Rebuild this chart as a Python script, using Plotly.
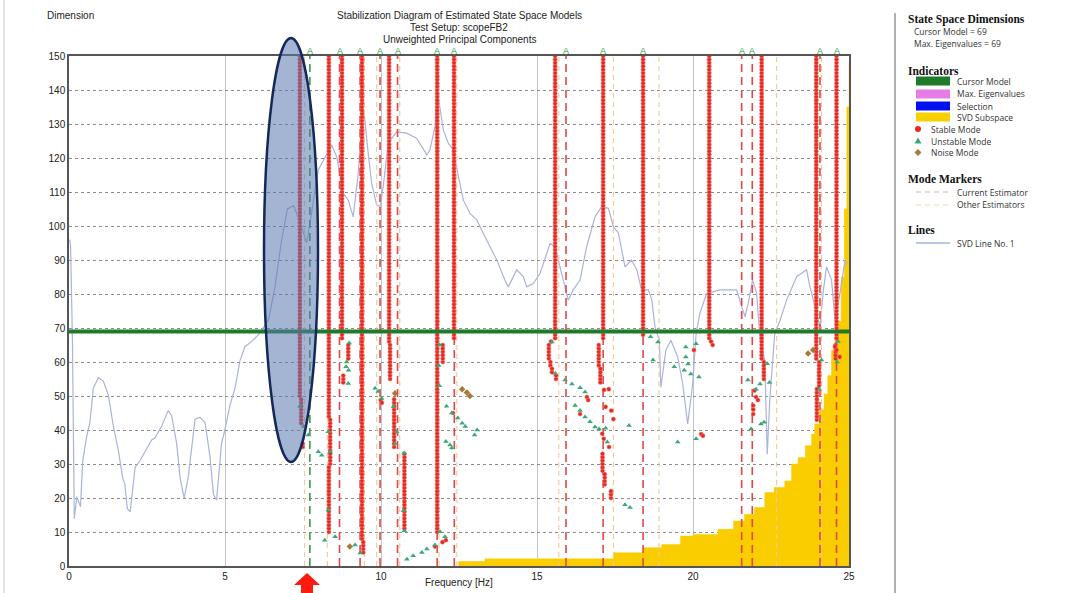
import plotly.graph_objects as go

# ---------------------------------------------------------------- data
cursor_model = 69
max_eigenvalues = 69

x_ticks = [0, 5, 10, 15, 20, 25]
y_ticks = [0, 10, 20, 30, 40, 50, 60, 70, 80, 90, 100, 110, 120, 130, 140, 150]

# SVD line no. 1 (frequency [Hz], dimension)
svd_freq = [0.02, 0.05, 0.11, 0.17, 0.25, 0.32, 0.37, 0.44, 0.57, 0.67, 0.78, 0.94, 1.10, 1.26,
            1.42, 1.58, 1.72, 1.79, 1.87, 1.96, 2.12, 2.28, 2.49, 2.65, 2.76, 2.97, 3.18, 3.29,
            3.45, 3.56, 3.69, 3.82, 4.04, 4.20, 4.36, 4.52, 4.63, 4.73, 4.89, 5.00, 5.16, 5.32,
            5.48, 5.64, 5.85, 6.12, 6.40, 6.60, 6.80, 7.00, 7.20, 7.45, 7.62, 7.75, 7.99, 8.42,
            8.58, 8.79, 8.95, 9.11, 9.27, 9.38, 9.45, 9.59, 9.70, 9.86, 9.97, 10.07, 10.23, 10.50,
            10.82, 11.14, 11.47, 11.57, 11.73, 11.80, 11.89, 12.00, 12.16, 12.32, 12.48, 12.64,
            12.85, 13.07, 13.28, 13.49, 13.71, 13.97, 14.08, 14.35, 14.56, 14.67, 14.88, 15.10,
            15.42, 15.58, 15.79, 16.00, 16.16, 16.38, 16.59, 16.86, 17.07, 17.29, 17.45, 17.61,
            17.82, 18.03, 18.20, 18.35, 18.57, 18.68, 18.78, 18.92, 18.97, 19.13, 19.29, 19.51,
            19.67, 19.83, 19.99, 20.10, 20.22, 20.44, 20.87, 21.40, 21.56, 21.67, 21.77, 21.91,
            22.04, 22.15, 22.30, 22.38, 22.46, 22.62, 22.78, 23.00, 23.32, 23.64, 23.75, 23.86,
            24.07, 24.18, 24.28, 24.44, 24.55, 24.71, 24.87, 24.95]
svd_dim = [96.0, 94.3, 66.5, 13.9, 20.4, 18.9, 17.4, 31.0, 38.2, 42.2, 52.3, 55.4, 54.4, 50.3,
           41.2, 34.1, 26.0, 24.0, 16.9, 15.9, 29.0, 31.1, 34.6, 37.1, 37.7, 41.2, 45.7, 44.2,
           36.1, 26.0, 19.9, 26.0, 43.2, 43.7, 42.2, 32.1, 21.0, 19.4, 36.1, 40.2, 47.3, 52.3,
           60.4, 64.5, 66.0, 68.5, 72.6, 82.0, 95.0, 105.0, 106.0, 100.0, 95.0, 103.0, 116.5, 123.8,
           120.4, 109.6, 107.6, 102.7, 115.5, 129.2, 134.0, 121.4, 112.5, 106.2, 105.7, 111.6, 124.3, 127.7,
           127.3, 125.8, 120.9, 122.4, 129.2, 140.0, 134.1, 128.2, 124.3, 122.4, 114.5, 107.6,
           103.7, 101.8, 97.8, 93.9, 90.0, 84.1, 82.1, 87.1, 85.1, 82.1, 83.1, 86.1,
           94.9, 93.9, 86.1, 78.2, 81.2, 84.1, 93.9, 102.7, 105.7, 105.2, 99.8, 97.9,
           88.0, 90.0, 87.1, 81.2, 81.2, 78.2, 70.4, 66.4, 52.6, 63.5, 66.4, 61.5,
           53.6, 41.8, 53.6, 68.4, 74.3, 80.2, 81.2, 81.2, 76.3, 73.3, 77.3, 84.1,
           80.2, 66.5, 60.5, 32.9, 48.7, 68.4, 72.0, 78.2, 85.1, 87.1, 82.1, 78.2,
           70.4, 81.2, 88.0, 84.1, 72.4, 80.2, 90.0, 89.0]

# SVD subspace (step outline)
subspace_freq = [12.48, 13.33, 17.45, 18.40, 19.00, 19.60, 20.00, 20.80, 21.30, 21.65, 21.97,
                 22.30, 22.60, 22.94, 23.16, 23.37, 23.60, 23.80, 23.90, 24.05, 24.20, 24.32,
                 24.44, 24.55, 24.65, 24.75, 24.85, 24.93, 25.00]
subspace_dim = [1.3, 2.1, 3.9, 5.4, 6.3, 8.8, 9.3, 10.8, 13.2, 15.2, 17.2,
                21.6, 23.1, 25.0, 30.0, 31.9, 35.4, 38.8, 41.8, 46.0, 50.6, 56.0,
                63.5, 68.0, 72.0, 85.0, 105.0, 135.0, 148.0]

# stable poles tracked over consecutive model orders: (frequency, lowest order, highest order)
stable_segments = [
    (7.40, 50, 150), (7.44, 42, 49), (7.49, 35, 36),
    (8.33, 44, 150), (8.37, 30, 43), (8.33, 10, 29),
    (8.75, 67, 150), (8.95, 61, 65), (8.79, 54, 56),
    (9.39, 8, 150), (9.43, 4, 7),
    (10.26, 66, 150), (10.29, 55, 65), (10.42, 35, 49), (10.75, 11, 33),
    (11.80, 10, 150), (11.98, 60, 65),
    (12.34, 67, 150),
    (15.58, 67, 150), (15.45, 66, 66), (15.38, 61, 65), (15.43, 59, 60), (15.48, 57, 58), (15.61, 55, 56),
    (17.12, 67, 150), (16.98, 59, 65), (17.03, 54, 58), (17.10, 28, 33), (17.17, 24, 27), (17.37, 20, 22),
    (18.40, 68, 150),
    (20.52, 67, 150),
    (22.20, 61, 150), (22.27, 55, 60),
    (23.95, 61, 150), (24.04, 53, 60), (23.97, 43, 52),
    (24.60, 67, 150), (24.57, 61, 65),
]

# isolated stable poles (frequency, order)
stable_single = [
    (9.99, 48.8), (10.03, 48.0), (12.31, 45.0), (11.73, 5.7), (12.08, 7.6), (11.97, 7.0),
    (16.60, 49.7), (16.64, 48.8), (16.38, 44.7), (17.15, 51.8), (17.30, 52.0), (17.20, 46.8),
    (17.38, 45.7), (17.45, 43.2), (17.09, 38.9), (17.14, 37.4), (17.31, 35.0),
    (20.03, 63.5), (20.26, 38.8), (20.32, 38.3), (20.58, 66.0), (20.63, 65.0),
    (21.97, 51.6), (22.02, 49.7), (22.08, 48.8), (21.93, 47.2), (21.93, 46.0), (21.93, 44.7),
    (24.55, 64.5), (24.60, 63.5), (24.70, 61.5),
]

unstable_modes = [
    (7.40, 47.0), (7.67, 38.5), (7.52, 41.0),
    (7.99, 33.6), (8.10, 32.6), (8.31, 39.5), (8.37, 33.6), (8.31, 16.5), (8.20, 7.6), (8.53, 8.6),
    (8.98, 65.6), (8.90, 60.0), (8.88, 58.6), (8.96, 57.6), (8.95, 53.7),
    (9.17, 6.2), (9.33, 3.8),
    (9.81, 52.3), (9.91, 51.3), (10.02, 49.3), (10.40, 46.9), (10.50, 39.5), (10.45, 36.0),
    (10.74, 33.2), (10.72, 16.3), (10.75, 10.4),
    (10.83, 2.0), (11.03, 3.0), (11.31, 4.0), (11.47, 5.0), (11.73, 6.2),
    (11.89, 10.1), (12.05, 8.6),
    (11.88, 65.0), (11.85, 59.0), (11.87, 53.0),
    (12.10, 47.0), (12.27, 45.0), (12.46, 43.5), (12.60, 42.0), (12.70, 41.0),
    (13.08, 40.0), (13.00, 38.5), (12.08, 36.6), (12.21, 35.6), (12.27, 34.7),
    (15.48, 65.9), (15.59, 56.6),
    (15.90, 54.7), (16.12, 53.5), (16.38, 52.4), (16.54, 51.2),
    (16.22, 47.2), (16.38, 45.7), (16.54, 43.8), (16.70, 42.4), (16.86, 40.9), (16.99, 40.3),
    (17.20, 40.5), (17.25, 36.5),
    (17.82, 18.0), (17.98, 17.2), (17.95, 41.3),
    (18.64, 67.4), (18.88, 65.9), (18.72, 60.6),
    (19.40, 58.6), (19.77, 64.4), (19.77, 61.5), (19.84, 59.4), (19.93, 56.5), (20.10, 65.4),
    (20.19, 55.6), (19.72, 57.6),
    (19.51, 36.5), (20.10, 37.4),
    (21.76, 54.7), (22.15, 53.5), (22.02, 52.0), (21.86, 40.3), (22.18, 41.8), (22.28, 42.3),
    (22.38, 59.5), (22.45, 54.0),
    (24.12, 60.6), (24.05, 52.0),
    (24.65, 66.0), (24.62, 60.0),
]

noise_modes = [(10.45, 50.8), (12.60, 52.0), (12.75, 51.0), (12.85, 50.0), (9.00, 5.7),
               (23.69, 62.5), (23.85, 63.5)]

selected_freq = 7.72
current_est_freq = [8.67, 9.33, 9.97, 10.53, 11.80, 12.35, 15.93, 17.12, 18.40, 21.56, 21.90, 24.07, 24.60]
other_est_freq = [7.55, 8.28, 9.47, 9.86, 10.60, 11.86, 12.43, 15.70, 17.45, 18.91, 22.68, 24.12]

# ---------------------------------------------------------------- geometry
W, H = 1068, 593
PL, PR, PT, PB = 69, 849, 56, 566


def fx(px):
    return (px - PL) / (PR - PL)


def fy(py):
    return (PB - py) / (PB - PT)


RED = "#e6281d"
GREEN_TRI = "#3ba878"
BROWN = "#a87a3a"
CURSOR = "#1f7a2a"
SVD_COL = "#aab2de"
GOLD = "rgb(250,205,0)"
FONT = "Liberation Sans"

fig = go.Figure()

# SVD subspace area
fig.add_trace(go.Scatter(x=subspace_freq, y=subspace_dim, mode="lines",
                         line=dict(shape="hv", width=0.5, color=GOLD),
                         fill="tozeroy", fillcolor=GOLD, hoverinfo="skip"))

# SVD line
fig.add_trace(go.Scatter(x=svd_freq, y=svd_dim, mode="lines",
                         line=dict(color=SVD_COL, width=1.2), hoverinfo="skip"))


def vlines(freqs):
    xs, ys = [], []
    for f in freqs:
        xs += [f, f, None]
        ys += [0, 150, None]
    return xs, ys


# other estimators
xs, ys = vlines(other_est_freq)
fig.add_trace(go.Scatter(x=xs, y=ys, mode="lines",
                         line=dict(color="#f7c796", width=1.1, dash="5px,4px"), hoverinfo="skip"))
# current estimator
xs, ys = vlines(current_est_freq)
fig.add_trace(go.Scatter(x=xs, y=ys, mode="lines",
                         line=dict(color="#e04848", width=1.6, dash="8px,5px"), hoverinfo="skip"))
xs, ys = vlines([selected_freq])
fig.add_trace(go.Scatter(x=xs, y=ys, mode="lines",
                         line=dict(color="#3a9a4e", width=1.6, dash="8px,5px"), hoverinfo="skip"))

# stable poles
sx, sy = [], []
for f, lo, hi in stable_segments:
    for order in range(lo, hi + 1):
        sx.append(f)
        sy.append(order)
for f, o in stable_single:
    sx.append(f)
    sy.append(o)
fig.add_trace(go.Scatter(x=sx, y=sy, mode="markers",
                         marker=dict(symbol="circle", size=4.2, color=RED,
                                     line=dict(width=0.5, color="#f08080")),
                         hoverinfo="skip"))

# unstable and noise poles
fig.add_trace(go.Scatter(x=[p[0] for p in unstable_modes], y=[p[1] for p in unstable_modes],
                         mode="markers", marker=dict(symbol="triangle-up", size=5, color=GREEN_TRI),
                         hoverinfo="skip"))
fig.add_trace(go.Scatter(x=[p[0] for p in noise_modes], y=[p[1] for p in noise_modes],
                         mode="markers", marker=dict(symbol="diamond", size=5, color=BROWN),
                         hoverinfo="skip"))

# cursor model line
fig.add_trace(go.Scatter(x=[0, 25], y=[cursor_model, cursor_model], mode="lines",
                         line=dict(color=CURSOR, width=4), hoverinfo="skip"))

shapes = []
# highlighted region
shapes.append(dict(type="circle", xref="paper", yref="paper",
                   x0=fx(264), x1=fx(318), y0=fy(462), y1=fy(38),
                   fillcolor="rgba(90,120,175,0.55)", line=dict(color="#14285a", width=2.5),
                   layer="above"))
# red pointer below axis
ax0, ay = 307, 573
arrow_path = "M {} {} L {} {} L {} {} L {} {} L {} {} L {} {} L {} {} Z".format(
    fx(ax0), fy(ay), fx(ax0 + 13), fy(ay + 12), fx(ax0 + 6), fy(ay + 12), fx(ax0 + 6), fy(593),
    fx(ax0 - 6), fy(593), fx(ax0 - 6), fy(ay + 12), fx(ax0 - 13), fy(ay + 12))
shapes.append(dict(type="path", xref="paper", yref="paper", path=arrow_path,
                   fillcolor="#ff1a10", line=dict(width=0), layer="above"))
# window frame lines
shapes.append(dict(type="line", xref="paper", yref="paper", x0=fx(4), x1=fx(4), y0=fy(0), y1=fy(593),
                   line=dict(color="#c8c8c8", width=1)))
shapes.append(dict(type="line", xref="paper", yref="paper", x0=fx(895), x1=fx(895), y0=fy(13), y1=fy(593),
                   line=dict(color="#b0b0b0", width=2)))

annotations = []

# mode flags just above the plot frame (x on the frequency axis)
mode_freqs = [selected_freq] + current_est_freq
for f in mode_freqs:
    annotations.append(dict(x=f, y=fy(50.5), xref="x", yref="paper", text="A", showarrow=False,
                            xanchor="center", yanchor="middle",
                            font=dict(size=9, family=FONT, color="#2f9e44")))


def text(px, py, s, size=9, family=FONT, color="#222", anchor="left"):
    annotations.append(dict(x=fx(px), y=fy(py), xref="paper", yref="paper", text=s, showarrow=False,
                            xanchor=anchor, yanchor="middle",
                            font=dict(size=size, family=family, color=color)))


# titles
text(459, 15, "Stabilization Diagram of Estimated State Space Models", size=10, anchor="center")
text(459, 28, "Test Setup: scopeFB2", size=10, anchor="center")
text(459, 40, "Unweighted Principal Components", size=10, anchor="center")
text(45, 15, "Dimension", size=10)
text(459, 582, "Frequency [Hz]", size=10, anchor="center")

# side panel
HEAD = "Liberation Serif"
SIDE = "Open Sans"
text(906, 19, "<b>State Space Dimensions</b>", size=11.5, family=HEAD, color="#111")
text(912, 32, "Cursor Model = {}".format(cursor_model), size=8.5, family=SIDE, color="#333")
text(912, 43, "Max. Eigenvalues = {}".format(max_eigenvalues), size=8.5, family=SIDE, color="#333")
text(906, 71, "<b>Indicators</b>", size=11.5, family=HEAD, color="#111")
boxes = [(81, CURSOR, "Cursor Model"), (94, "#e47ee4", "Max. Eigenvalues"),
         (106, "#0010ee", "Selection"), (117, "#f8d000", "SVD Subspace")]
for py, col, lab in boxes:
    shapes.append(dict(type="rect", xref="paper", yref="paper", x0=fx(916), x1=fx(950),
                       y0=fy(py + 4.5), y1=fy(py - 4.5), fillcolor=col, line=dict(width=0)))
    text(955, py, lab, size=8.5, family=SIDE, color="#333")
# marker keys
shapes.append(dict(type="circle", xref="paper", yref="paper", x0=fx(915), x1=fx(921),
                   y0=fy(132), y1=fy(126), fillcolor=RED, line=dict(width=0)))
text(929, 129, "Stable Mode", size=8.5, family=SIDE, color="#333")
tri = "M {} {} L {} {} L {} {} Z".format(fx(918), fy(137.5), fx(921.5), fy(143.5), fx(914.5), fy(143.5))
shapes.append(dict(type="path", xref="paper", yref="paper", path=tri, fillcolor=GREEN_TRI, line=dict(width=0)))
text(929, 141, "Unstable Mode", size=8.5, family=SIDE, color="#333")
dia = "M {} {} L {} {} L {} {} L {} {} Z".format(fx(918), fy(149), fx(921.5), fy(152.5), fx(918), fy(156),
                                                 fx(914.5), fy(152.5))
shapes.append(dict(type="path", xref="paper", yref="paper", path=dia, fillcolor=BROWN, line=dict(width=0)))
text(929, 152.5, "Noise Mode", size=8.5, family=SIDE, color="#333")

text(906, 179, "<b>Mode Markers</b>", size=11.5, family=HEAD, color="#111")
shapes.append(dict(type="line", xref="paper", yref="paper", x0=fx(916), x1=fx(952), y0=fy(192), y1=fy(192),
                   line=dict(color="#d8b0b0", width=1.2, dash="5px,4px")))
text(955, 192, "Current Estimator", size=8.5, family=SIDE, color="#333")
shapes.append(dict(type="line", xref="paper", yref="paper", x0=fx(916), x1=fx(952), y0=fy(205), y1=fy(205),
                   line=dict(color="#f0d4a8", width=1.2, dash="5px,4px")))
text(955, 205, "Other Estimators", size=8.5, family=SIDE, color="#333")

text(906, 230, "<b>Lines</b>", size=11.5, family=HEAD, color="#111")
shapes.append(dict(type="line", xref="paper", yref="paper", x0=fx(916), x1=fx(950), y0=fy(243), y1=fy(243),
                   line=dict(color=SVD_COL, width=1.5)))
text(955, 243, "SVD Line No. 1", size=8.5, family=SIDE, color="#333")

fig.update_layout(
    width=W, height=H,
    margin=dict(l=PL, r=W - PR, t=PT, b=H - PB, autoexpand=False),
    paper_bgcolor="white", plot_bgcolor="white",
    showlegend=False,
    shapes=shapes,
    annotations=annotations,
    font=dict(family=FONT, size=10, color="#222"),
    xaxis=dict(range=[0, 25], tickvals=x_ticks, ticks="", showgrid=True,
               gridcolor="#c4c4c4", gridwidth=1, zeroline=False,
               showline=True, linecolor="#555", linewidth=1.5, mirror=True,
               tickfont=dict(size=10, family=FONT, color="#222"), automargin=False),
    yaxis=dict(range=[0, 150], tickvals=y_ticks, ticks="", showgrid=True,
               gridcolor="#8c8c8c", gridwidth=1, griddash="dot", zeroline=False,
               showline=True, linecolor="#555", linewidth=1.5, mirror=True,
               tickfont=dict(size=10, family=FONT, color="#222"), automargin=False),
)

fig.write_html("out.html")
